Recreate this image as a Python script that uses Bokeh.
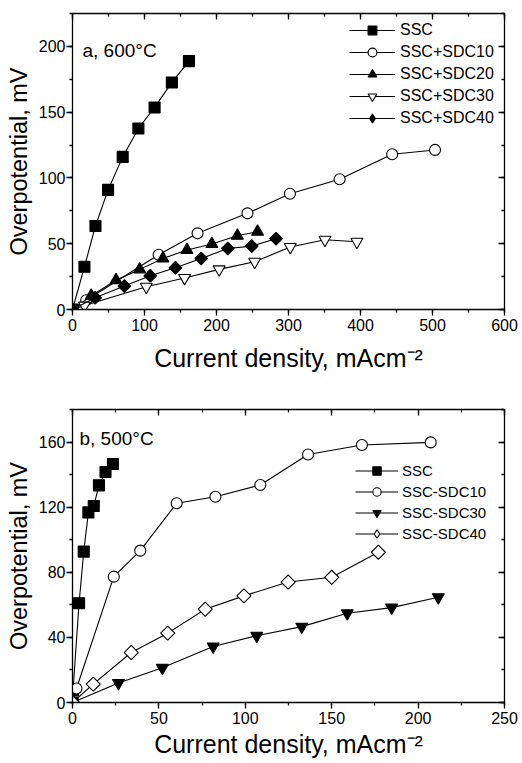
import math
from bokeh.plotting import figure
from bokeh.models import (Range1d, SingleIntervalTicker, LinearAxis, Label,
                          Legend, LegendItem)
from bokeh.layouts import column
from bokeh.embed import file_html
from bokeh.resources import INLINE

FONT = "Liberation Sans"

# ---------------- Panel a: 600 C ----------------
a_ssc_x = [0, 16.6, 31.9, 49.4, 69.7, 91.5, 114, 138, 161.7]
a_ssc_y = [0, 32.5, 63.5, 90.9, 116, 137.6, 153.6, 172.6, 188.8]
a_sdc10_x = [0, 19, 119.6, 173.7, 243, 302, 371, 444, 503.5]
a_sdc10_y = [0, 7, 41.6, 57.9, 73.1, 88, 99, 118, 121.3]
a_sdc20_x = [0, 26, 60.5, 93.3, 125.6, 159, 193.5, 229, 257]
a_sdc20_y = [0, 10.5, 22.3, 30.5, 38.8, 45.2, 49.8, 56.1, 59.1]
a_sdc30_x = [0, 16.6, 102.5, 155.7, 203.7, 253, 302.5, 350.6, 395]
a_sdc30_y = [0, 3, 17.3, 24, 30.5, 36.3, 47.5, 53, 51.5]
a_sdc40_x = [0, 31.4, 72, 108, 143, 178.8, 215.7, 249, 282.7]
a_sdc40_y = [0, 8.9, 17.8, 25.6, 31.7, 38.8, 46.4, 48.2, 53.8]
a_labels = ["SSC", "SSC+SDC10", "SSC+SDC20", "SSC+SDC30", "SSC+SDC40"]

# ---------------- Panel b: 500 C ----------------
b_ssc_x = [0, 0.3, 3.8, 6.5, 9.2, 12.3, 15.3, 19.1, 23.4]
b_ssc_y = [0, 7.5, 61, 92.7, 116.8, 120.7, 133.4, 141.6, 146.5]
b_sdc10_x = [0, 2.3, 23.9, 39.2, 60.3, 82.7, 108.7, 136.3, 167.5, 207.3]
b_sdc10_y = [0, 8.6, 77.3, 93.3, 122.4, 126.4, 133.6, 152.4, 158.2, 159.8]
b_sdc30_x = [0, 26.6, 52, 81.4, 106.6, 132.7, 159, 184.7, 211.7]
b_sdc30_y = [0, 12, 21.3, 34.4, 41, 46.6, 54.8, 58.3, 64.7]
b_sdc40_x = [0, 12, 34, 55.1, 76.8, 99.2, 124.8, 150, 177]
b_sdc40_y = [0, 11.3, 30.7, 42.6, 57.3, 65.5, 74, 76.9, 92.3]
b_labels = ["SSC", "SSC-SDC10", "SSC-SDC30", "SSC-SDC40"]

X_LABEL = "Current density, mAcm\u207b\u00b2"
Y_LABEL = "Overpotential, mV"


def style_axis(ax, ticker, outward, show_labels):
    ax.ticker = ticker
    ax.axis_line_width = 1.3
    ax.axis_line_color = "black"
    ax.major_tick_line_width = 1.3
    ax.minor_tick_line_width = 1.3
    ax.major_tick_line_color = "black"
    ax.minor_tick_line_color = "black"
    if outward:
        ax.major_tick_out = 6
        ax.major_tick_in = 0
        ax.minor_tick_out = 3
        ax.minor_tick_in = 0
    else:
        ax.major_tick_out = 0
        ax.major_tick_in = 6
        ax.minor_tick_out = 0
        ax.minor_tick_in = 3
    if show_labels:
        ax.major_label_text_font = FONT
        ax.major_label_text_font_size = "16px"
        ax.major_label_text_color = "black"
    else:
        ax.major_label_text_font_size = "0px"
        ax.major_label_text_color = None
        ax.major_label_standoff = 0


def make_fig(height, xr, yr, xint, yint, top, bottom, right, xl_standoff):
    p = figure(width=522, height=height,
               x_range=Range1d(*xr), y_range=Range1d(*yr),
               output_backend="svg", toolbar_location=None,
               min_border_left=72, min_border_right=right,
               min_border_top=top, min_border_bottom=bottom)
    p.grid.visible = False
    p.outline_line_color = None
    p.background_fill_color = "white"
    style_axis(p.xaxis[0], SingleIntervalTicker(interval=xint, num_minor_ticks=2), True, True)
    style_axis(p.yaxis[0], SingleIntervalTicker(interval=yint, num_minor_ticks=2), True, True)
    p.xaxis[0].major_label_standoff = 3
    p.yaxis[0].major_label_standoff = 1
    for ax, lab, fs, so in ((p.xaxis[0], X_LABEL, "25px", xl_standoff),
                            (p.yaxis[0], Y_LABEL, "23.5px", 4)):
        ax.axis_label = lab
        ax.axis_label_text_font = FONT
        ax.axis_label_text_font_size = fs
        ax.axis_label_text_font_style = "normal"
        ax.axis_label_text_color = "black"
        ax.axis_label_standoff = so
    top_ax = LinearAxis()
    style_axis(top_ax, SingleIntervalTicker(interval=xint, num_minor_ticks=2), False, False)
    right_ax = LinearAxis()
    style_axis(right_ax, SingleIntervalTicker(interval=yint, num_minor_ticks=2), False, False)
    p.add_layout(top_ax, "above")
    p.add_layout(right_ax, "right")
    return p


def series(p, xs, ys, marker, fill, size, diamond=False):
    l = p.line(xs, ys, line_color="black", line_width=1.1)
    if diamond:
        # true rotated-square diamonds in the plot
        p.scatter(xs, ys, marker="square", size=size, angle=math.pi / 4,
                  line_color="black", fill_color=fill, line_width=1.1)
        # legend-only diamond glyph (its single point lies outside the view)
        s = p.scatter([-1000], [-1000], marker="diamond", size=size,
                      line_color="black", fill_color=fill, line_width=1.1)
        return [l, s]
    s = p.scatter(xs, ys, marker=marker, size=size,
                  line_color="black", fill_color=fill, line_width=1.1)
    return [l, s]


def make_legend(items, loc, gw, gh, standoff, fsize):
    return Legend(items=items, location=loc, border_line_color=None,
                  background_fill_alpha=0, padding=0, margin=0, spacing=0,
                  glyph_width=gw, glyph_height=gh, label_standoff=standoff,
                  label_text_font=FONT, label_text_font_size=fsize,
                  label_text_color="black", label_height=20)


# ---- figure a ----
pa = make_fig(380, (0, 600), (0, 225), 100, 50, 13, 71, 18, 10)
ra = [
    series(pa, a_ssc_x, a_ssc_y, "square", "black", 11),
    series(pa, a_sdc10_x, a_sdc10_y, "circle", "white", 11),
    series(pa, a_sdc20_x, a_sdc20_y, "triangle", "black", 12),
    series(pa, a_sdc30_x, a_sdc30_y, "inverted_triangle", "white", 12),
    series(pa, a_sdc40_x, a_sdc40_y, "diamond", "black", 9, diamond=True),
]
pa.add_layout(make_legend([LegendItem(label=lab, renderers=r) for lab, r in zip(a_labels, ra)],
                          (277, 180), 46, 22, 5, "16px"))
pa.add_layout(Label(x=10, y=259, x_units="screen", y_units="screen",
                    text="a, 600°C", text_font=FONT, text_font_size="19px",
                    text_color="black", text_baseline="alphabetic", text_align="left"))

# ---- figure b ----
pb = make_fig(383, (0, 250), (0, 180), 50, 40, 29, 61, 14, 3)
rb = [
    series(pb, b_ssc_x, b_ssc_y, "square", "black", 11),
    series(pb, b_sdc10_x, b_sdc10_y, "circle", "white", 11),
    series(pb, b_sdc30_x, b_sdc30_y, "inverted_triangle", "black", 12),
    series(pb, b_sdc40_x, b_sdc40_y, "diamond", "white", 10, diamond=True),
]
pb.add_layout(make_legend([LegendItem(label=lab, renderers=r) for lab, r in zip(b_labels, rb)],
                          (283, 158), 43, 21, 4, "15px"))
pb.add_layout(Label(x=7, y=264, x_units="screen", y_units="screen",
                    text="b, 500°C", text_font=FONT, text_font_size="19px",
                    text_color="black", text_baseline="alphabetic", text_align="left"))

layout = column(pa, pb, spacing=0)
open("out.html", "w").write(file_html(layout, INLINE))
